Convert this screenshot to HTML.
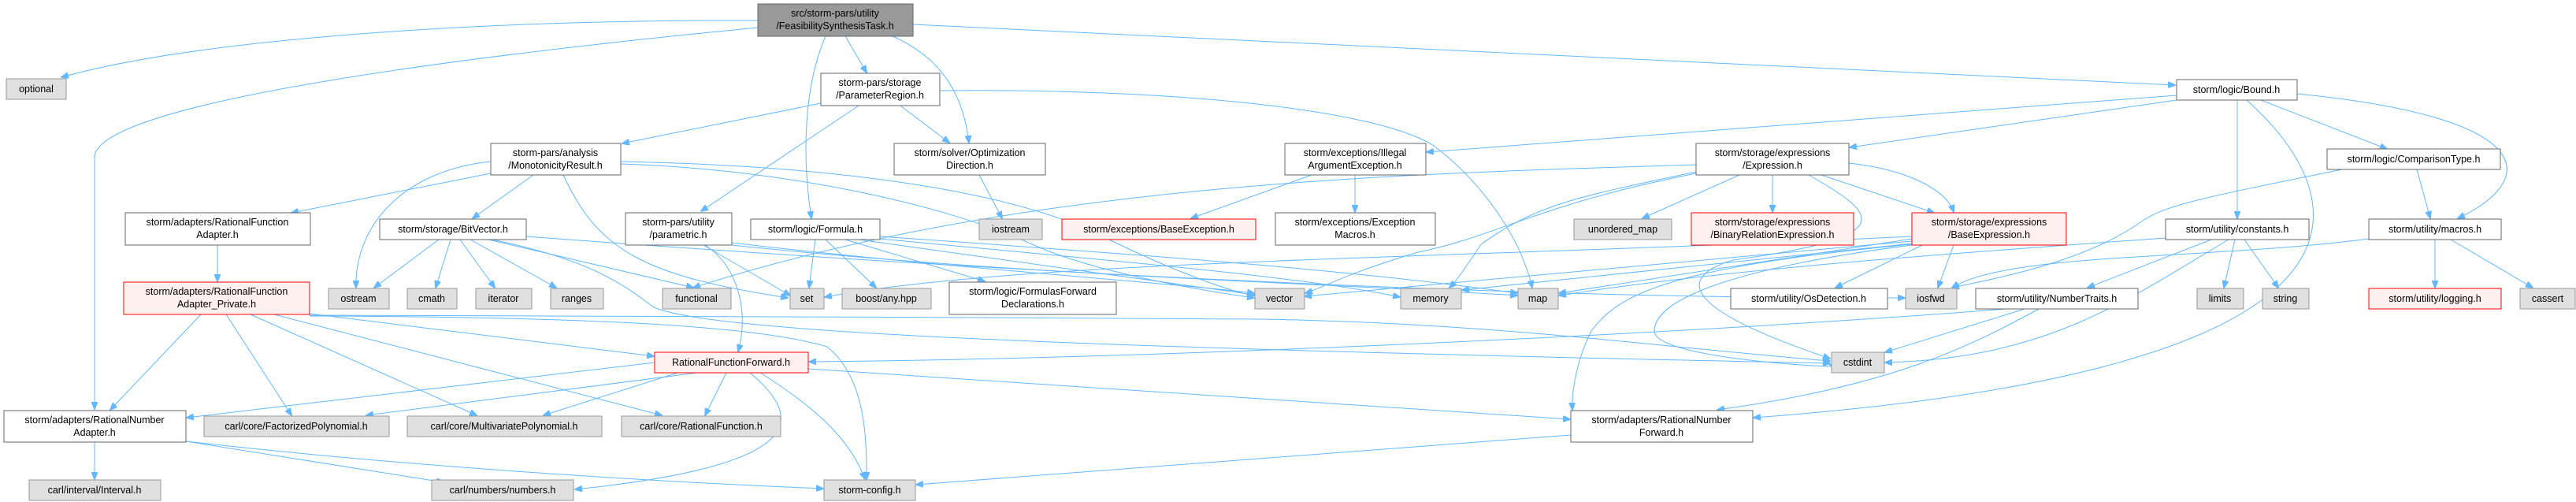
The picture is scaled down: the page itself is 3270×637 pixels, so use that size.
<!DOCTYPE html>
<html><head><meta charset="utf-8"><style>
html,body{margin:0;padding:0;background:#fff;}
svg{display:block;}
text{font-family:"Liberation Sans",sans-serif;font-size:12.5px;fill:#000;text-anchor:middle;}
.w{fill:#fff;stroke:#666;stroke-width:1;}
.g{fill:#e0e0e0;stroke:#999;stroke-width:1;}
.r{fill:#fff0f0;stroke:#f00;stroke-width:1;}
.m{fill:#999;stroke:#666;stroke-width:1;}
path{fill:none;stroke:#63b8ff;stroke-width:1;marker-end:url(#a);}
</style></head><body>
<svg width="3270" height="637" viewBox="0 0 3270 637" xmlns="http://www.w3.org/2000/svg">
<defs><marker id="a" markerWidth="10" markerHeight="8" refX="9" refY="4" orient="auto" markerUnits="userSpaceOnUse"><path d="M0,0 L10,4 L0,8 Z" style="fill:#63b8ff;stroke:#63b8ff;marker-end:none"/></marker></defs>
<path d="M962,26 C600,25 250,50 78,98"/>
<path d="M962,35 C600,70 120,130 120,200 L120,519"/>
<path d="M1073,46 L1100,92"/>
<path d="M1133,46 C1210,80 1225,140 1230,181"/>
<path d="M1048,46 C1020,110 1018,200 1030,277"/>
<path d="M1159,31 L2761,108"/>
<path d="M1042,131 L790,182"/>
<path d="M1090,134 L890,268"/>
<path d="M1143,134 L1205,181"/>
<path d="M1193,115 C1500,112 1750,140 1820,185 C1880,230 1930,300 1945,365"/>
<path d="M623,220 L370,270"/>
<path d="M677,222 L600,277"/>
<path d="M623,205 C520,215 450,280 452,365"/>
<path d="M788,205 C1050,210 1280,240 1400,300 C1480,340 1560,370 1592,375"/>
<path d="M788,208 C1000,215 1200,260 1310,310 C1400,350 1550,372 1592,378"/>
<path d="M715,222 C760,320 820,350 1000,378"/>
<path d="M276,311 L276,357"/>
<path d="M255,399 L140,520"/>
<path d="M287,399 L370,527"/>
<path d="M318,399 L605,527"/>
<path d="M348,399 L840,527"/>
<path d="M393,398 L830,452"/>
<path d="M393,400 C700,405 1200,400 1600,405 C1900,410 2100,440 2323,458"/>
<path d="M393,401 C700,402 950,410 1050,440 C1100,480 1100,560 1100,608"/>
<path d="M557,304 L475,365"/>
<path d="M572,304 L553,365"/>
<path d="M584,304 L628,365"/>
<path d="M597,304 L706,365"/>
<path d="M620,304 L880,365"/>
<path d="M625,304 C750,330 790,360 830,390 C900,420 1300,440 2323,461"/>
<path d="M668,300 C1200,340 1900,380 2418,378"/>
<path d="M895,311 C940,340 950,400 937,446"/>
<path d="M893,311 L1003,375"/>
<path d="M929,308 C1200,340 1500,360 1592,372"/>
<path d="M929,311 C1300,350 1700,360 1926,375"/>
<path d="M1035,304 L1027,365"/>
<path d="M1048,304 L1112,365"/>
<path d="M1073,304 L1250,357"/>
<path d="M1090,304 L1592,374"/>
<path d="M1117,300 C1400,320 1700,340 1926,372"/>
<path d="M1117,303 C1400,330 1650,350 1777,377"/>
<path d="M1243,222 L1272,277"/>
<path d="M831,460 L237,530"/>
<path d="M885,473 L465,527"/>
<path d="M860,473 L690,527"/>
<path d="M922,473 L895,527"/>
<path d="M952,473 C1020,530 1030,590 730,621"/>
<path d="M965,473 C1040,520 1080,560 1098,608"/>
<path d="M1026,468 L1993,532"/>
<path d="M120,561 L120,608"/>
<path d="M236,560 L563,612"/>
<path d="M236,560 C500,590 800,610 1045,620"/>
<path d="M1994,552 L1163,615"/>
<path d="M1665,222 L1512,277"/>
<path d="M1720,222 L1720,269"/>
<path d="M2763,121 L1811,193"/>
<path d="M2763,127 L2348,187"/>
<path d="M2208,222 L2085,277"/>
<path d="M2250,222 L2250,269"/>
<path d="M2312,222 L2455,270"/>
<path d="M2153,220 C1950,260 1900,300 1800,320 C1700,350 1680,365 1657,372"/>
<path d="M2153,218 C2000,250 1950,260 1880,310 C1860,340 1850,355 1840,365"/>
<path d="M2153,209 C1800,220 1300,230 880,365"/>
<path d="M2296,222 C2380,270 2420,300 2200,330 C2150,345 2100,380 2323,455"/>
<path d="M2347,207 C2420,215 2470,240 2480,269"/>
<path d="M2840,127 L2840,277"/>
<path d="M2870,127 L3030,189"/>
<path d="M2916,119 C3230,150 3220,230 3120,277"/>
<path d="M2852,127 C3000,260 3040,470 2226,530"/>
<path d="M2973,215 C2800,250 2750,260 2720,280 C2650,330 2550,350 2478,365"/>
<path d="M3068,215 L3085,277"/>
<path d="M2807,304 L2650,365"/>
<path d="M2837,304 L2823,365"/>
<path d="M2849,304 L2892,365"/>
<path d="M2749,302 C2500,320 2200,340 1979,375"/>
<path d="M2829,304 C2700,380 2600,455 2393,460"/>
<path d="M3007,303 C2800,330 2550,320 2478,365"/>
<path d="M3091,304 L3091,365"/>
<path d="M3111,304 L3215,365"/>
<path d="M2570,392 L2393,447"/>
<path d="M2545,392 C2200,420 1500,455 1027,459"/>
<path d="M2588,392 C2500,440 2400,490 2180,520"/>
<path d="M2480,311 L2460,365"/>
<path d="M2427,303 L1979,372"/>
<path d="M2427,306 L1656,376"/>
<path d="M2427,309 L1856,368"/>
<path d="M2427,300 C1800,330 1300,330 1047,377"/>
<path d="M2440,311 L2330,365"/>
<path d="M2427,311 C2200,340 2100,380 2100,420 C2100,460 2400,470 2323,463"/>
<path d="M2427,310 C2100,340 2050,380 2020,420 C2000,460 1995,500 1996,520"/>
<rect class="m" x="962" y="5" width="197" height="41"/><text x="1060" y="21">src/storm-pars/utility</text><text x="1060" y="37">/FeasibilitySynthesisTask.h</text>
<rect class="g" x="8" y="100" width="76" height="26"/><text x="46" y="117">optional</text>
<rect class="w" x="1042" y="93" width="151" height="41"/><text x="1117" y="109">storm-pars/storage</text><text x="1117" y="125">/ParameterRegion.h</text>
<rect class="w" x="2763" y="101" width="153" height="26"/><text x="2839" y="118">storm/logic/Bound.h</text>
<rect class="w" x="623" y="182" width="165" height="40"/><text x="705" y="198">storm-pars/analysis</text><text x="705" y="214">/MonotonicityResult.h</text>
<rect class="w" x="1135" y="182" width="192" height="40"/><text x="1231" y="198">storm/solver/Optimization</text><text x="1231" y="214">Direction.h</text>
<rect class="w" x="1631" y="182" width="179" height="40"/><text x="1720" y="198">storm/exceptions/Illegal</text><text x="1720" y="214">ArgumentException.h</text>
<rect class="w" x="2153" y="182" width="194" height="40"/><text x="2250" y="198">storm/storage/expressions</text><text x="2250" y="214">/Expression.h</text>
<rect class="w" x="2954" y="189" width="220" height="26"/><text x="3064" y="206">storm/logic/ComparisonType.h</text>
<rect class="w" x="159" y="270" width="235" height="41"/><text x="276" y="286">storm/adapters/RationalFunction</text><text x="276" y="302">Adapter.h</text>
<rect class="w" x="482" y="278" width="186" height="26"/><text x="575" y="295">storm/storage/BitVector.h</text>
<rect class="w" x="794" y="270" width="135" height="41"/><text x="861" y="286">storm-pars/utility</text><text x="861" y="302">/parametric.h</text>
<rect class="w" x="953" y="278" width="164" height="26"/><text x="1035" y="295">storm/logic/Formula.h</text>
<rect class="g" x="1243" y="278" width="80" height="26"/><text x="1283" y="295">iostream</text>
<rect class="r" x="1348" y="278" width="246" height="26"/><text x="1471" y="295">storm/exceptions/BaseException.h</text>
<rect class="w" x="1619" y="270" width="203" height="41"/><text x="1720" y="286">storm/exceptions/Exception</text><text x="1720" y="302">Macros.h</text>
<rect class="g" x="1998" y="278" width="124" height="26"/><text x="2060" y="295">unordered_map</text>
<rect class="r" x="2147" y="270" width="206" height="41"/><text x="2250" y="286">storm/storage/expressions</text><text x="2250" y="302">/BinaryRelationExpression.h</text>
<rect class="r" x="2427" y="270" width="196" height="41"/><text x="2525" y="286">storm/storage/expressions</text><text x="2525" y="302">/BaseExpression.h</text>
<rect class="w" x="2749" y="278" width="182" height="26"/><text x="2840" y="295">storm/utility/constants.h</text>
<rect class="w" x="3007" y="278" width="168" height="26"/><text x="3091" y="295">storm/utility/macros.h</text>
<rect class="r" x="157" y="358" width="236" height="41"/><text x="275" y="374">storm/adapters/RationalFunction</text><text x="275" y="390">Adapter_Private.h</text>
<rect class="g" x="417" y="366" width="77" height="26"/><text x="455" y="383">ostream</text>
<rect class="g" x="517" y="366" width="63" height="26"/><text x="548" y="383">cmath</text>
<rect class="g" x="604" y="366" width="71" height="26"/><text x="639" y="383">iterator</text>
<rect class="g" x="699" y="366" width="67" height="26"/><text x="732" y="383">ranges</text>
<rect class="g" x="841" y="366" width="87" height="26"/><text x="884" y="383">functional</text>
<rect class="g" x="1003" y="366" width="43" height="26"/><text x="1024" y="383">set</text>
<rect class="g" x="1069" y="366" width="113" height="26"/><text x="1125" y="383">boost/any.hpp</text>
<rect class="w" x="1205" y="358" width="212" height="41"/><text x="1311" y="374">storm/logic/FormulasForward</text><text x="1311" y="390">Declarations.h</text>
<rect class="g" x="1593" y="366" width="63" height="26"/><text x="1624" y="383">vector</text>
<rect class="g" x="1778" y="366" width="77" height="26"/><text x="1816" y="383">memory</text>
<rect class="g" x="1927" y="366" width="51" height="26"/><text x="1952" y="383">map</text>
<rect class="w" x="2197" y="366" width="199" height="26"/><text x="2296" y="383">storm/utility/OsDetection.h</text>
<rect class="g" x="2419" y="366" width="65" height="26"/><text x="2451" y="383">iosfwd</text>
<rect class="w" x="2508" y="366" width="206" height="26"/><text x="2611" y="383">storm/utility/NumberTraits.h</text>
<rect class="g" x="2789" y="366" width="59" height="26"/><text x="2818" y="383">limits</text>
<rect class="g" x="2872" y="366" width="59" height="26"/><text x="2901" y="383">string</text>
<rect class="r" x="3007" y="366" width="168" height="26"/><text x="3091" y="383">storm/utility/logging.h</text>
<rect class="g" x="3199" y="366" width="70" height="26"/><text x="3234" y="383">cassert</text>
<rect class="r" x="831" y="447" width="195" height="26"/><text x="928" y="464">RationalFunctionForward.h</text>
<rect class="g" x="2325" y="447" width="67" height="26"/><text x="2358" y="464">cstdint</text>
<rect class="w" x="5" y="521" width="231" height="40"/><text x="120" y="537">storm/adapters/RationalNumber</text><text x="120" y="553">Adapter.h</text>
<rect class="g" x="259" y="528" width="235" height="26"/><text x="376" y="545">carl/core/FactorizedPolynomial.h</text>
<rect class="g" x="517" y="528" width="247" height="26"/><text x="640" y="545">carl/core/MultivariatePolynomial.h</text>
<rect class="g" x="789" y="528" width="202" height="26"/><text x="890" y="545">carl/core/RationalFunction.h</text>
<rect class="w" x="1994" y="521" width="231" height="40"/><text x="2109" y="537">storm/adapters/RationalNumber</text><text x="2109" y="553">Forward.h</text>
<rect class="g" x="37" y="609" width="167" height="26"/><text x="120" y="626">carl/interval/Interval.h</text>
<rect class="g" x="548" y="609" width="180" height="26"/><text x="638" y="626">carl/numbers/numbers.h</text>
<rect class="g" x="1046" y="609" width="116" height="26"/><text x="1104" y="626">storm-config.h</text>
</svg>
</body></html>
